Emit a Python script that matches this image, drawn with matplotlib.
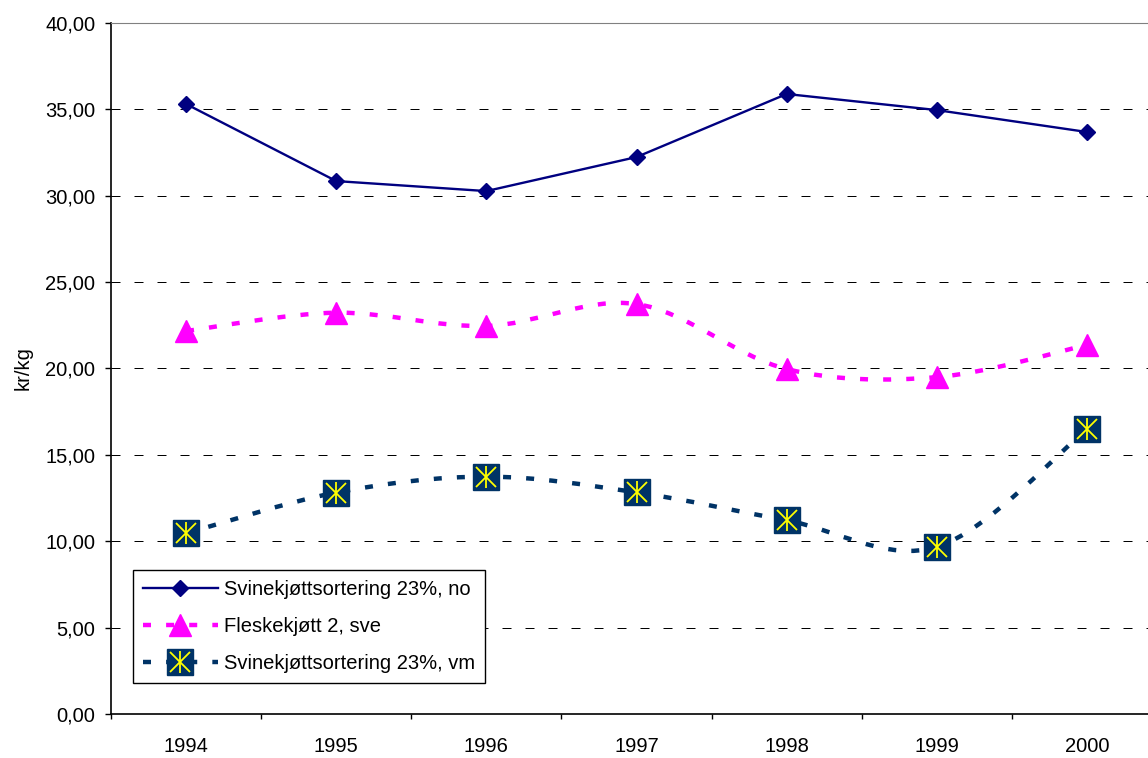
import numpy as np
import matplotlib
matplotlib.use("Agg")
import matplotlib.pyplot as plt
from matplotlib.path import Path
from matplotlib.patches import PathPatch
from matplotlib.lines import Line2D
from matplotlib.ticker import FuncFormatter

plt.rcParams['font.family'] = ['Liberation Sans', 'DejaVu Sans']

years = ['1994', '1995', '1996', '1997', '1998', '1999', '2000']
no_vals = [35.31, 30.85, 30.27, 32.24, 35.89, 34.96, 33.69]
sve_vals = [22.17, 23.23, 22.46, 23.73, 19.97, 19.50, 21.36]
vm_vals = [10.46, 12.82, 13.74, 12.83, 11.21, 9.67, 16.48]
labels = ['Svinekjøttsortering 23%, no', 'Fleskekjøtt 2, sve', 'Svinekjøttsortering 23%, vm']

navy = '#000080'
magenta = '#FF00FF'
dblue = '#003366'
yellow = '#FFFF00'
dots = (0, (1.8, 3.4))
fs = 14.5


def smooth_path(xs, ys):
    # excel-like smoothed line, bezier through the points
    pts = np.column_stack([xs, ys]).astype(float)
    n = len(pts)
    verts = [pts[0]]
    codes = [Path.MOVETO]
    for i in range(n - 1):
        p0 = pts[max(i - 1, 0)]
        p1 = pts[i]
        p2 = pts[i + 1]
        p3 = pts[min(i + 2, n - 1)]
        verts += [p1 + (p2 - p0) / 6, p2 - (p3 - p1) / 6, p2]
        codes += [Path.CURVE4] * 3
    return Path(verts, codes)


fig = plt.figure(figsize=(11.48, 7.58), dpi=100)
ax = fig.add_axes([111 / 1148, 44 / 758, 1051 / 1148, 691 / 758])

x = np.arange(len(years))

# series 1, straight line
ax.plot(x, no_vals, color=navy, lw=1.7, marker='D', ms=8, zorder=5)

# series 2, smoothed dotted
ax.add_patch(PathPatch(smooth_path(x, sve_vals), fill=False, edgecolor=magenta,
                       lw=3.2, linestyle=dots, capstyle='butt', zorder=4))
ax.plot(x, sve_vals, ls='none', marker='^', ms=15.5, color=magenta, mec=magenta, zorder=5)

# series 3, smoothed dotted, square with star
ax.add_patch(PathPatch(smooth_path(x, vm_vals), fill=False, edgecolor=dblue,
                       lw=3.2, linestyle=dots, capstyle='butt', zorder=4))
ax.plot(x, vm_vals, ls='none', marker='s', ms=19, color=dblue, mec=dblue, zorder=5)
ax.plot(x, vm_vals, ls='none', marker='x', ms=14, mew=1.3, color=yellow, zorder=6)
ax.plot(x, vm_vals, ls='none', marker='|', ms=16, mew=1.3, color=yellow, zorder=6)

ax.set_xlim(-0.5, 6.5)
ax.set_ylim(0, 40)
ax.set_yticks(np.arange(0, 41, 5))
ax.yaxis.set_major_formatter(FuncFormatter(lambda v, p: f"{v:.2f}".replace('.', ',')))
ax.set_xticks(x)
ax.set_xticklabels(years)
ax.set_xticks(np.arange(-0.5, 7, 1), minor=True)
ax.tick_params(axis='x', which='major', length=0, pad=16.5, labelsize=fs)
ax.tick_params(axis='x', which='minor', length=3.6, width=1, direction='out')
ax.tick_params(axis='y', length=4.3, width=1, pad=7, labelsize=fs)

ax.set_axisbelow(True)
ax.yaxis.grid(True, color='black', lw=0.72, linestyle=(0, (9, 14)))

ax.spines['top'].set_color('#808080')
ax.spines['right'].set_color('#808080')
ax.spines['left'].set_linewidth(1.2)
ax.spines['bottom'].set_linewidth(1.2)

ax.set_ylabel('kr/kg', fontsize=fs)
ax.yaxis.set_label_coords((33 - 111) / 1051, 0.5)

h1 = Line2D([], [], color=navy, lw=1.7, marker='D', ms=8)
h2 = Line2D([], [], color=magenta, lw=3.2, ls=dots, marker='^', ms=15.5, dash_capstyle='butt')
h3 = (Line2D([], [], color=dblue, lw=3.2, ls=dots, marker='s', ms=19, dash_capstyle='butt'),
      Line2D([], [], ls='none', marker='x', ms=14, mew=1.3, color=yellow),
      Line2D([], [], ls='none', marker='|', ms=16, mew=1.3, color=yellow))
leg = ax.legend([h1, h2, h3], labels, loc='upper left',
                bbox_to_anchor=((133 - 111) / 1051, (714 - 570) / 691),
                borderaxespad=0, fontsize=fs, frameon=True, fancybox=False,
                framealpha=1, edgecolor='black', handlelength=3.7,
                labelspacing=0.9, numpoints=1, borderpad=0.5, handletextpad=0.3)
leg.get_frame().set_linewidth(1)

plt.savefig('out.png', dpi=100)
